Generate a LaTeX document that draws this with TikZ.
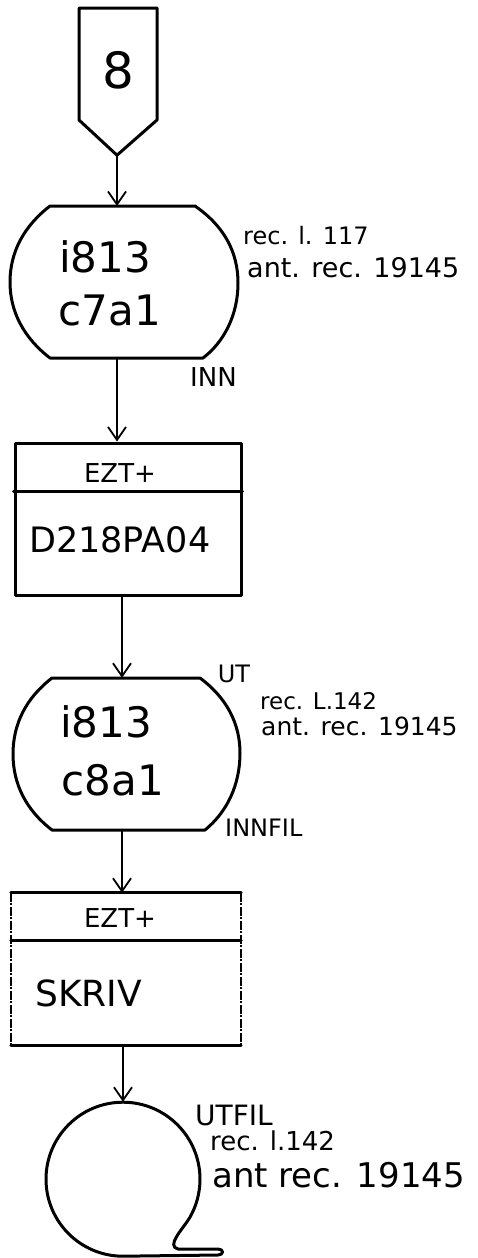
\documentclass[tikz,border=0pt]{standalone}
\usepackage{fontspec}
\setmainfont{DejaVu Sans}
\usetikzlibrary{arrows.meta}
\begin{document}
\begin{tikzpicture}[x=1pt,y=1pt,
  shp/.style={line width=3pt, line join=round, line cap=round},
  arr/.style={line width=1.8pt, -{Straight Barb[length=13pt,width=18pt,line width=1.8pt]}},
  anch/.style={draw=none, inner sep=0pt, minimum width=2pt},
  fs/.style={font=\fontsize{#1}{#1}\selectfont, inner sep=0pt},
  lbl/.style={fs=#1, anchor=west},
  side/.style={line width=1.6pt, dash pattern=on 9pt off 1.5pt on 2pt off 1.5pt},
]
\useasboundingbox (0,0) rectangle (478,-1258);

% off-page connector
\node[anch, minimum height=147pt] (o8) at (117,-81.5) {};
\draw[shp] (79,-8) -- (157,-8) -- (157,-120) -- (o8.south) -- (79,-120) -- cycle;
\node[fs=50] (o8t) at (118,-70) {8};

% terminal 1
\node[anch, minimum height=152pt] (t1) at (117,-282) {};
\draw[shp] (50,-206) -- (195,-206) .. controls (224,-226) and (238,-252) .. (238,-283)
  .. controls (238,-315) and (224,-342) .. (203,-358) -- (50,-358)
  .. controls (24,-338) and (10,-312) .. (10,-282) .. controls (10,-252) and (24,-226) .. (50,-206) -- cycle;
\node[fs=42] (t1a) at (105,-257) {i813};
\node[fs=42] (t1b) at (110,-310) {c7a1};
\node[lbl=24] (t1l1) at (243,-236) {rec. l. 117};
\node[lbl=27] (t1l2) at (247,-268) {ant. rec. 19145};
\node[lbl=26] (t1l3) at (190,-377) {INN};

% box 1
\node[draw, shp, minimum width=226pt, minimum height=152pt, inner sep=0pt] (b1) at (128,-519) {};
\draw[shp] (b1.west |- 0,-491) -- (b1.east |- 0,-491);
\node[fs=26] (b1h) at (120,-473) {EZT+};
\node[lbl=35] (b1t) at (29,-540) {D218PA04};

% terminal 2
\node[anch, minimum height=152pt] (t2) at (122,-754) {};
\draw[shp] (52,-678) -- (200,-678) .. controls (227,-698) and (240,-724) .. (240,-753)
  .. controls (240,-785) and (227,-812) .. (205,-830) -- (52,-830)
  .. controls (26,-810) and (13,-784) .. (13,-754) .. controls (13,-724) and (26,-698) .. (52,-678) -- cycle;
\node[fs=42] (t2a) at (106,-722) {i813};
\node[fs=42] (t2b) at (113,-780) {c8a1};
\node[fs=24] (t2l0) at (234,-674) {UT};
\node[lbl=23] (t2l1) at (260,-701) {rec. L.142};
\node[lbl=25] (t2l2) at (261,-726) {ant. rec. 19145};
\node[lbl=24] (t2l3) at (225,-828) {INNFIL};

% box 2
\node[anch, minimum width=230pt, minimum height=152pt] (b2) at (126,-969) {};
\draw[shp] (b2.north west) -- (b2.north east);
\draw[shp] (b2.south west) -- (b2.south east);
\draw[shp] (b2.west |- 0,-940) -- (b2.east |- 0,-940);
\draw[side] (b2.north west) -- (b2.south west);
\draw[side] (b2.north east) -- (b2.south east);
\node[fs=26] (b2h) at (120,-918) {EZT+};
\node[lbl=36] (b2t) at (35,-993) {SKRIV};

% tape
\node[anch, circle, minimum size=154pt] (tp) at (123,-1179) {};
\draw[shp] (tp.south) arc[start angle=-90, end angle=-390, radius=77pt]
  .. controls (182,-1230) and (166,-1246) .. (178,-1249) -- (218,-1249)
  .. controls (224,-1249) and (224,-1255) .. (218,-1255) -- (tp.south);
\node[lbl=28] (tpl1) at (195,-1115) {UTFIL};
\node[lbl=26] (tpl2) at (210,-1141) {rec. l.142};
\node[lbl=34] (tpl3) at (212,-1175) {ant rec. 19145};

% connectors
\draw[arr] (o8.south) -- (o8.south |- 0,-206);
\draw[arr] (t1.south) -- (t1.south |- b1.north);
\draw[arr] (b1.south -| t2.north) -- (t2.north);
\draw[arr] (t2.south) -- (t2.south |- b2.north);
\draw[arr] (b2.south -| tp.north) -- (tp.north);
\end{tikzpicture}
\end{document}
